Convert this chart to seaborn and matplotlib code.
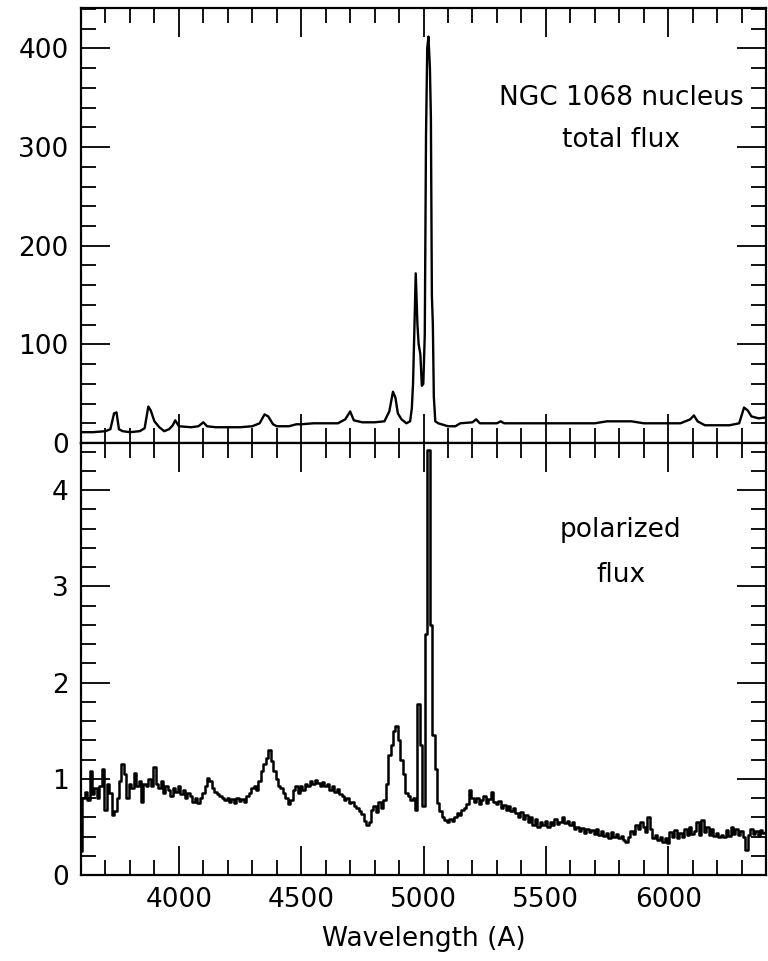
import numpy as np
import pandas as pd
import matplotlib
matplotlib.use("Agg")
import matplotlib.pyplot as plt
from matplotlib.ticker import MultipleLocator
import seaborn as sns

# ---------------- data ----------------
# total flux spectrum (wavelength in A, flux)
total_wave = [3600, 3650, 3700, 3720, 3735, 3745, 3755, 3770, 3800, 3840,
              3860, 3875, 3885, 3900, 3920, 3940, 3960, 3975, 3985, 4000,
              4050, 4080, 4100, 4115, 4150, 4200, 4250, 4300, 4330, 4350,
              4365, 4385, 4400, 4450, 4480, 4500, 4550, 4600, 4650, 4680,
              4700, 4715, 4750, 4800, 4840, 4860, 4875, 4885, 4895, 4910,
              4930, 4945, 4952, 4957, 4962, 4968, 4975, 4980, 4987, 4993,
              4999, 5005, 5010, 5015, 5020, 5026, 5030, 5034, 5038, 5042,
              5048, 5060, 5100, 5130, 5150, 5200, 5215, 5230, 5300, 5315,
              5330, 5400, 5500, 5600, 5700, 5750, 5850, 5900, 5950, 6000,
              6050, 6090, 6105, 6120, 6150, 6200, 6250, 6290, 6310, 6325,
              6340, 6370, 6400]
total_flux = [11, 11, 12, 14, 30, 31, 14, 12, 11, 12,
              15, 37, 33, 22, 16, 12, 14, 18, 23, 17,
              16, 17, 21, 17, 16, 16, 16, 17, 20, 29,
              27, 19, 17, 17, 19, 19, 20, 20, 20, 24,
              32, 23, 21, 21, 22, 32, 52, 46, 30, 24,
              20, 22, 35, 60, 110, 172, 120, 100, 90, 58,
              60, 110, 310, 400, 412, 380, 330, 150, 120, 47,
              22, 20, 17, 17, 20, 21, 24, 20, 20, 22,
              20, 20, 20, 20, 20, 22, 22, 20, 20, 20,
              20, 24, 28, 22, 18, 18, 18, 20, 36, 33,
              27, 25, 26]

# polarized flux spectrum, sampled every 10 A from 3600 to 6400
pol_wave = np.arange(3600, 6401, 10)
pol_flux = [
    0.25, 0.80, 0.86, 0.78, 1.08, 0.84, 0.90, 0.80, 0.92, 1.10,   # 3600
    0.68, 0.95, 0.85, 0.62, 0.66, 0.80, 0.98, 1.15, 1.05, 0.80,   # 3700
    0.95, 0.90, 1.06, 0.92, 0.98, 0.76, 0.95, 0.92, 1.00, 0.93,   # 3800
    1.12, 0.95, 0.90, 0.98, 0.85, 0.93, 0.88, 0.82, 0.90, 0.86,   # 3900
    0.92, 0.84, 0.88, 0.80, 0.85, 0.82, 0.76, 0.80, 0.75, 0.80,   # 4000
    0.85, 0.93, 1.01, 0.98, 0.90, 0.86, 0.84, 0.82, 0.80, 0.78,   # 4100
    0.80, 0.76, 0.79, 0.75, 0.80, 0.77, 0.79, 0.76, 0.82, 0.85,   # 4200
    0.90, 0.93, 0.88, 0.98, 1.08, 1.15, 1.22, 1.30, 1.18, 1.08,   # 4300
    1.00, 0.93, 0.90, 0.85, 0.80, 0.74, 0.78, 0.88, 0.92, 0.85,   # 4400
    0.93, 0.88, 0.95, 0.92, 0.98, 0.95, 0.99, 0.96, 0.93, 0.97,   # 4500
    0.92, 0.95, 0.88, 0.92, 0.86, 0.89, 0.84, 0.82, 0.78, 0.80,   # 4600
    0.75, 0.76, 0.72, 0.70, 0.66, 0.63, 0.56, 0.52, 0.55, 0.68,   # 4700
    0.72, 0.65, 0.76, 0.70, 0.78, 0.95, 1.25, 1.35, 1.50, 1.55,   # 4800
    1.40, 1.20, 1.05, 0.85, 0.82, 0.78, 0.80, 0.68, 1.78, 1.35,   # 4900
    0.72, 2.50, 4.42, 2.60, 1.45, 1.10, 0.75, 0.66, 0.60, 0.57,   # 5000
    0.55, 0.58, 0.56, 0.60, 0.64, 0.62, 0.68, 0.70, 0.74, 0.88,   # 5100
    0.80, 0.76, 0.80, 0.74, 0.78, 0.82, 0.75, 0.79, 0.86, 0.76,   # 5200
    0.74, 0.77, 0.70, 0.73, 0.68, 0.72, 0.66, 0.70, 0.64, 0.60,   # 5300
    0.65, 0.58, 0.62, 0.55, 0.60, 0.52, 0.58, 0.50, 0.55, 0.52,   # 5400
    0.56, 0.50, 0.55, 0.52, 0.58, 0.53, 0.55, 0.60, 0.54, 0.56,   # 5500
    0.52, 0.55, 0.48, 0.50, 0.46, 0.49, 0.44, 0.48, 0.45, 0.47,   # 5600
    0.43, 0.48, 0.42, 0.46, 0.41, 0.44, 0.38, 0.45, 0.40, 0.43,   # 5700
    0.38, 0.41, 0.36, 0.34, 0.40, 0.46, 0.43, 0.52, 0.48, 0.55,   # 5800
    0.50, 0.45, 0.60, 0.48, 0.38, 0.42, 0.36, 0.40, 0.34, 0.38,   # 5900
    0.33, 0.45, 0.40, 0.47, 0.38, 0.44, 0.40, 0.48, 0.42, 0.50,   # 6000
    0.43, 0.46, 0.55, 0.42, 0.57, 0.45, 0.50, 0.42, 0.48, 0.41,   # 6100
    0.44, 0.40, 0.42, 0.39, 0.47, 0.41, 0.50, 0.43, 0.48, 0.42,   # 6200
    0.46, 0.40, 0.26, 0.42, 0.48, 0.43, 0.46, 0.41, 0.47, 0.44,   # 6300
    0.45]                                                         # 6400

x_major_ticks = [4000, 4500, 5000, 5500, 6000]
top_yticks = [0, 100, 200, 300, 400]
bottom_yticks = [0, 1, 2, 3, 4]

top_df = pd.DataFrame({"wave": total_wave, "flux": total_flux})
pol_df = pd.DataFrame({"wave": pol_wave, "flux": pol_flux})

# ---------------- style ----------------
sns.set_style("ticks")
plt.rcParams["font.family"] = ["DejaVu Sans"]
plt.rcParams["text.color"] = "black"
plt.rcParams["axes.labelcolor"] = "black"

FS = 19

fig = plt.figure(figsize=(7.68, 9.61), dpi=100)
ax_top = fig.add_axes([0.1055, 0.539, 0.892, 0.4527])
ax_bot = fig.add_axes([0.1055, 0.0895, 0.892, 0.4495], sharex=ax_top)

sns.lineplot(data=top_df, x="wave", y="flux", ax=ax_top, color="black",
             linewidth=1.7, estimator=None, sort=False)
sns.lineplot(data=pol_df, x="wave", y="flux", ax=ax_bot, color="black",
             linewidth=1.8, estimator=None, sort=False, drawstyle="steps-mid")

ax_top.set_xlim(3600, 6400)
ax_top.set_ylim(0, 441)
ax_bot.set_ylim(0, 4.49)

for ax in (ax_top, ax_bot):
    ax.set_xticks(x_major_ticks)
    ax.xaxis.set_minor_locator(MultipleLocator(100))
    for side in ax.spines.values():
        side.set_linewidth(1.6)
        side.set_color("black")
    ax.tick_params(which="both", direction="in", top=True, right=True,
                   colors="black", labelsize=FS)
    ax.tick_params(which="major", length=21, width=1.3, pad=9)
    ax.tick_params(which="minor", length=11, width=1.3)
    ax.set_ylabel("")

ax_top.set_yticks(top_yticks)
ax_top.yaxis.set_minor_locator(MultipleLocator(20))
ax_top.tick_params(axis="x", labelbottom=False)
ax_top.set_xlabel("")

ax_bot.set_yticks(bottom_yticks)
ax_bot.yaxis.set_minor_locator(MultipleLocator(0.2))
ax_bot.set_xlabel("Wavelength (A)", fontsize=FS, labelpad=9, color="black")

ax_top.text(0.788, 0.793, "NGC 1068 nucleus", transform=ax_top.transAxes,
            ha="center", va="center", fontsize=FS, color="black")
ax_top.text(0.788, 0.697, "total flux", transform=ax_top.transAxes,
            ha="center", va="center", fontsize=FS, color="black")
ax_bot.text(0.788, 0.799, "polarized", transform=ax_bot.transAxes,
            ha="center", va="center", fontsize=FS, color="black")
ax_bot.text(0.788, 0.694, "flux", transform=ax_bot.transAxes,
            ha="center", va="center", fontsize=FS, color="black")

fig.savefig("out.png", dpi=100, facecolor="white")
